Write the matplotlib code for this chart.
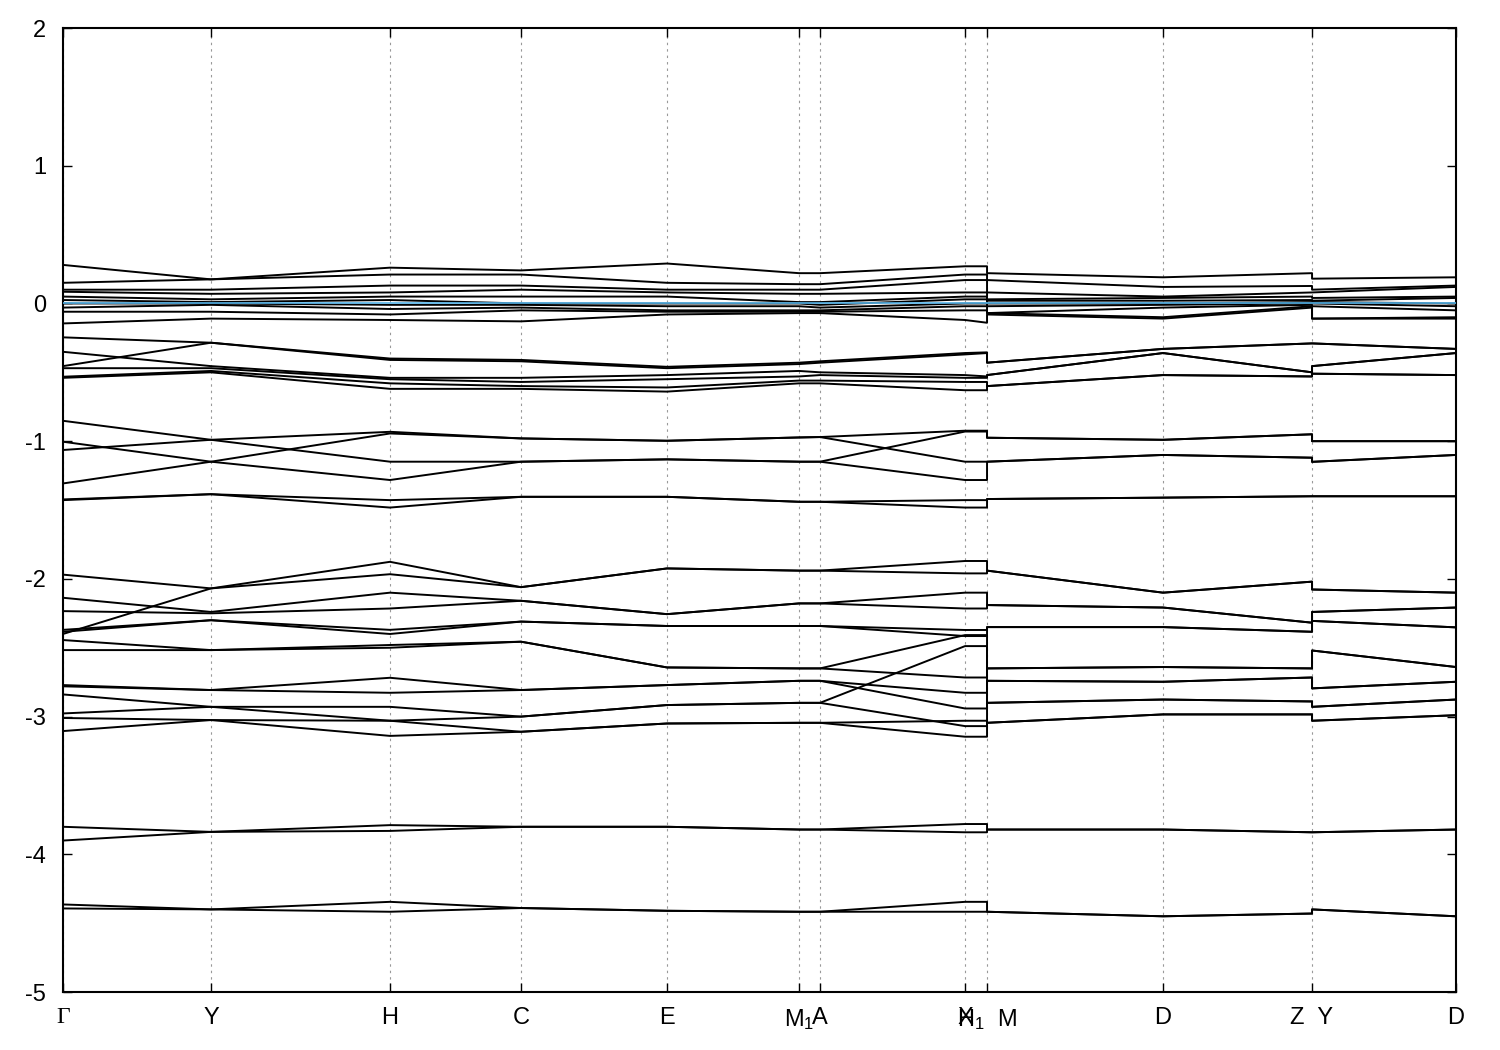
import matplotlib.pyplot as plt

plt.rcParams['font.family'] = ['Liberation Sans', 'DejaVu Sans']
plt.rcParams['axes.unicode_minus'] = False
plt.rcParams['mathtext.fontset'] = 'custom'
plt.rcParams['mathtext.rm'] = 'Liberation Sans'
plt.rcParams['mathtext.it'] = 'Liberation Sans'

# k-path: Γ Y H C E M1 A X H1|M D Z|Y D  (the two breaks are listed twice)
kpath = [0, 148, 327, 458, 604, 736, 757, 902, 924, 924, 1100, 1249, 1249, 1393]
tick_pos = [0, 148, 327, 458, 604, 736, 757, 902, 924, 1100, 1249, 1393]
tick_labels = ['Γ', 'Y', 'H', 'C', 'E', 'M$_1$', 'A', 'X', 'H$_1$  M', 'D', 'Z  Y', 'D']

# bands near the Fermi level
bands_fermi = [
    [0.28, 0.175, 0.26, 0.24, 0.29, 0.22, 0.22, 0.27, 0.27, 0.22, 0.19, 0.22, 0.18, 0.19],
    [0.15, 0.175, 0.21, 0.21, 0.15, 0.14, 0.14, 0.21, 0.21, 0.17, 0.12, 0.127, 0.10, 0.13],
    [0.10, 0.10, 0.13, 0.13, 0.10, 0.10, 0.10, 0.17, 0.17, 0.08, 0.05, 0.08, 0.08, 0.12],
    [0.085, 0.07, 0.08, 0.10, 0.08, 0.07, 0.07, 0.08, 0.08, 0.03, 0.04, 0.05, 0.04, 0.05],
    [0.05, 0.03, 0.05, 0.05, 0.05, 0.01, 0.01, 0.05, 0.05, 0.02, 0.02, 0.025, 0.02, 0.04],
    [0.025, 0.01, 0.025, 0.00, 0.00, 0.00, -0.01, 0.03, 0.03, 0.00, 0.00, 0.01, 0.01, 0.00],
    [0.00, 0.00, -0.01, -0.01, -0.02, -0.02, -0.03, 0.00, 0.00, -0.02, -0.01, 0.00, 0.00, -0.02],
    [-0.03, -0.01, -0.04, -0.03, -0.05, -0.05, -0.05, -0.02, -0.02, -0.07, -0.03, -0.01, -0.02, -0.05],
    [-0.06, -0.06, -0.08, -0.05, -0.06, -0.06, -0.06, -0.05, -0.05, -0.07, -0.10, -0.02, -0.11, -0.10],
    [-0.145, -0.11, -0.12, -0.13, -0.08, -0.07, -0.07, -0.12, -0.14, -0.08, -0.11, -0.03, -0.11, -0.11],
]

# bands around -0.5 eV
bands_half = [
    [-0.246, -0.285, -0.40, -0.41, -0.46, -0.43, -0.42, -0.36, -0.355, -0.43, -0.33, -0.29, -0.29, -0.33],
    [-0.455, -0.285, -0.41, -0.42, -0.47, -0.44, -0.43, -0.37, -0.36, -0.43, -0.33, -0.29, -0.29, -0.33],
    [-0.351, -0.455, -0.54, -0.54, -0.52, -0.49, -0.50, -0.52, -0.53, -0.52, -0.36, -0.50, -0.455, -0.36],
    [-0.47, -0.47, -0.55, -0.57, -0.55, -0.53, -0.52, -0.54, -0.54, -0.52, -0.36, -0.50, -0.455, -0.36],
    [-0.532, -0.49, -0.58, -0.60, -0.61, -0.56, -0.56, -0.57, -0.57, -0.60, -0.52, -0.53, -0.51, -0.52],
    [-0.54, -0.50, -0.62, -0.62, -0.64, -0.58, -0.58, -0.63, -0.63, -0.60, -0.52, -0.53, -0.51, -0.52],
]

# bands around -1.2 eV
bands_one = [
    [-1.064, -0.99, -0.932, -0.98, -0.997, -0.973, -0.97, -0.924, -0.924, -0.975, -0.99, -0.95, -1.0, -1.0],
    [-1.307, -1.149, -0.944, -0.98, -0.997, -0.973, -0.97, -1.149, -1.149, -1.149, -1.10, -1.12, -1.15, -1.10],
    [-0.852, -0.99, -1.149, -1.149, -1.132, -1.149, -1.149, -0.93, -0.93, -0.975, -0.99, -0.95, -1.0, -1.0],
    [-1.004, -1.149, -1.282, -1.149, -1.132, -1.149, -1.149, -1.282, -1.282, -1.149, -1.10, -1.12, -1.15, -1.10],
    [-1.423, -1.385, -1.428, -1.404, -1.404, -1.44, -1.44, -1.428, -1.428, -1.42, -1.41, -1.40, -1.40, -1.40],
    [-1.428, -1.385, -1.482, -1.404, -1.404, -1.44, -1.44, -1.482, -1.482, -1.42, -1.41, -1.40, -1.40, -1.40],
]

# bands between -2 and -3.2 eV
bands_two = [
    [-1.969, -2.069, -1.966, -2.06, -1.924, -1.94, -1.94, -1.96, -1.96, -1.94, -2.10, -2.02, -2.077, -2.10],
    [-2.40, -2.069, -1.876, -2.06, -1.924, -1.94, -1.94, -1.87, -1.87, -1.94, -2.10, -2.02, -2.077, -2.10],
    [-2.137, -2.24, -2.10, -2.159, -2.256, -2.178, -2.178, -2.10, -2.10, -2.19, -2.208, -2.318, -2.24, -2.208],
    [-2.234, -2.25, -2.215, -2.159, -2.256, -2.178, -2.178, -2.215, -2.215, -2.19, -2.208, -2.318, -2.24, -2.208],
    [-2.37, -2.30, -2.37, -2.31, -2.342, -2.342, -2.342, -2.371, -2.371, -2.35, -2.35, -2.384, -2.305, -2.352],
    [-2.384, -2.30, -2.40, -2.31, -2.342, -2.342, -2.342, -2.415, -2.415, -2.35, -2.35, -2.384, -2.305, -2.352],
    [-2.444, -2.517, -2.48, -2.456, -2.643, -2.65, -2.65, -2.408, -2.408, -2.65, -2.64, -2.65, -2.52, -2.64],
    [-2.517, -2.517, -2.50, -2.456, -2.643, -2.65, -2.65, -2.716, -2.716, -2.65, -2.64, -2.65, -2.52, -2.64],
    [-2.771, -2.807, -2.718, -2.807, -2.771, -2.74, -2.74, -2.827, -2.827, -2.74, -2.747, -2.716, -2.795, -2.747],
    [-2.78, -2.807, -2.827, -2.807, -2.771, -2.74, -2.74, -2.941, -2.941, -2.74, -2.747, -2.716, -2.795, -2.747],
    [-2.839, -2.929, -2.929, -3.00, -2.916, -2.90, -2.90, -2.488, -2.488, -2.90, -2.876, -2.89, -2.929, -2.876],
    [-2.977, -2.929, -3.03, -3.00, -2.916, -2.90, -2.90, -3.069, -3.069, -2.90, -2.876, -2.89, -2.929, -2.876],
    [-3.01, -3.025, -3.03, -3.11, -3.05, -3.045, -3.045, -3.03, -3.03, -3.045, -2.984, -2.984, -3.03, -2.99],
    [-3.105, -3.025, -3.14, -3.11, -3.05, -3.045, -3.045, -3.146, -3.146, -3.045, -2.984, -2.984, -3.03, -2.99],
]

# deep bands
bands_deep = [
    [-3.80, -3.837, -3.788, -3.80, -3.80, -3.82, -3.82, -3.78, -3.78, -3.82, -3.82, -3.84, -3.84, -3.82],
    [-3.90, -3.837, -3.83, -3.80, -3.80, -3.82, -3.82, -3.84, -3.84, -3.82, -3.82, -3.84, -3.84, -3.82],
    [-4.364, -4.40, -4.345, -4.39, -4.41, -4.417, -4.417, -4.345, -4.345, -4.417, -4.45, -4.43, -4.40, -4.45],
    [-4.393, -4.40, -4.417, -4.39, -4.41, -4.417, -4.417, -4.417, -4.417, -4.417, -4.45, -4.43, -4.40, -4.45],
]

fig, ax = plt.subplots(figsize=(15, 10.5), dpi=100)
fig.subplots_adjust(left=0.042, right=0.9707, top=0.9733, bottom=0.0552)

for group in (bands_fermi, bands_half, bands_one, bands_two, bands_deep):
    for band in group:
        ax.plot(kpath, band, color='black', lw=1.4, zorder=3)

# Fermi level
ax.axhline(0, color='#56b4e9', lw=1.2, zorder=4)

ax.set_xlim(0, 1393)
ax.set_ylim(-5, 2)
ax.set_yticks(range(-5, 3))
ax.set_xticks(tick_pos)
ax.set_xticklabels(tick_labels)
ax.get_xticklabels()[0].set_fontfamily(['Liberation Serif', 'DejaVu Serif'])

ax.grid(axis='x', color='#999999', ls=(0, (2.2, 3.6)), lw=0.8)
ax.tick_params(direction='in', length=6.5, width=1, top=True, right=True, labelsize=17)
ax.tick_params(axis='x', pad=11)
ax.tick_params(axis='y', pad=12)
for sp in ax.spines.values():
    sp.set_linewidth(1.5)

fig.savefig('out.png', dpi=100)
